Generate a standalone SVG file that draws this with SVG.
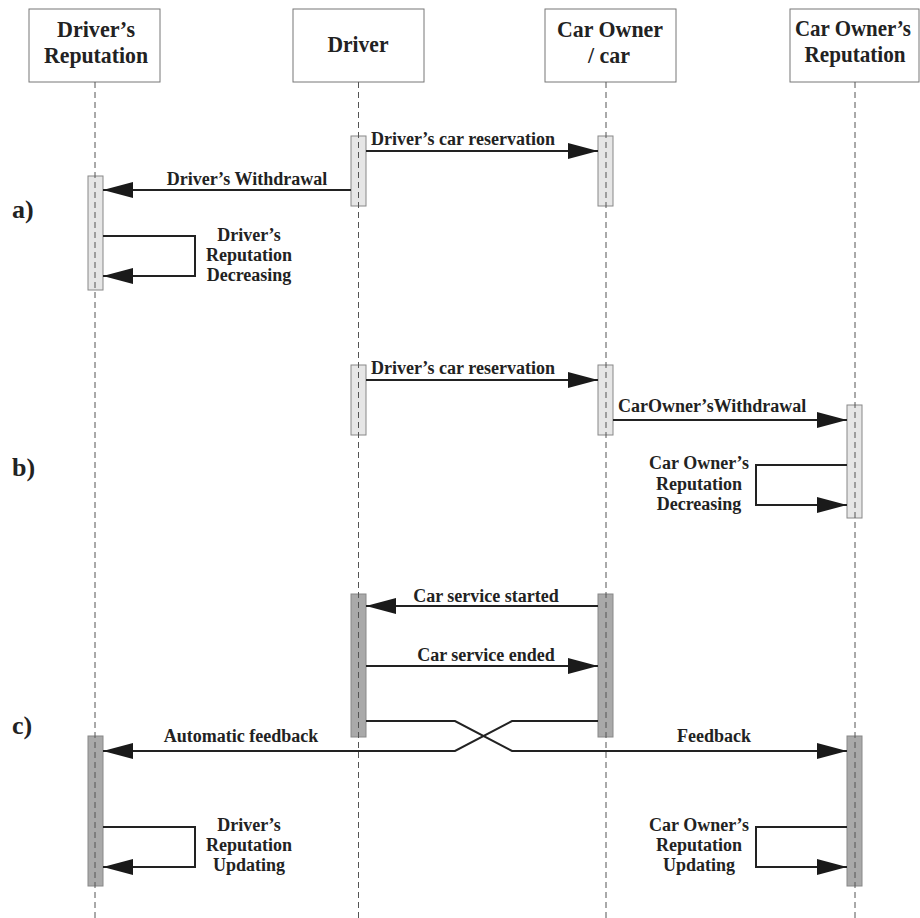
<svg xmlns="http://www.w3.org/2000/svg" width="920" height="918" viewBox="0 0 920 918">
<style>
.hdr{fill:#fff;stroke:#777;stroke-width:1}
.life{stroke:#555;stroke-width:1;stroke-dasharray:6,4;fill:none}
.actL{fill:#e6e6e6;stroke:#888;stroke-width:1}
.actD{fill:#a9a9a9;stroke:#888;stroke-width:1}
.msg{stroke:#222;stroke-width:2;fill:none;marker-end:url(#ah)}
text{font-family:"Liberation Serif","Times New Roman",serif;font-weight:bold;fill:#222}
.ht{font-size:24px;text-anchor:middle}
.t{font-size:18px}
.c{text-anchor:middle}
.sec{font-size:26px}
</style>
<defs>
<marker id="ah" markerUnits="userSpaceOnUse" markerWidth="31" markerHeight="17" refX="30" refY="8" orient="auto">
<path d="M0,0 L30,8 L0,16 z" fill="#1a1a1a"/>
</marker>
</defs>
<rect width="920" height="918" fill="#fff"/>

<g id="activations">
<rect class="actL" x="351" y="136" width="15" height="70"/>
<rect class="actL" x="598" y="136" width="15" height="70"/>
<rect class="actL" x="88" y="176" width="15" height="114"/>
<rect class="actL" x="351" y="365" width="15" height="70"/>
<rect class="actL" x="598" y="365" width="15" height="70"/>
<rect class="actL" x="847" y="405" width="15" height="113"/>
<rect class="actD" x="351" y="594" width="15" height="143"/>
<rect class="actD" x="598" y="594" width="15" height="143"/>
<rect class="actD" x="88" y="736" width="15" height="150"/>
<rect class="actD" x="847" y="736" width="15" height="150"/>
</g>

<g id="drivers-reputation">
<rect class="hdr" x="29" y="9" width="131" height="73"/>
<text class="ht" x="96" y="37" textLength="78" lengthAdjust="spacingAndGlyphs">Driver’s</text>
<text class="ht" x="96" y="63" textLength="104" lengthAdjust="spacingAndGlyphs">Reputation</text>
<line class="life" x1="95" y1="82" x2="95" y2="918"/>
</g>
<g id="driver">
<rect class="hdr" x="293" y="9" width="131" height="73"/>
<text class="ht" x="358" y="52" textLength="61" lengthAdjust="spacingAndGlyphs">Driver</text>
<line class="life" x1="358.5" y1="82" x2="358.5" y2="918"/>
</g>
<g id="car-owner">
<rect class="hdr" x="545" y="9" width="131" height="73"/>
<text class="ht" x="610" y="37" textLength="106" lengthAdjust="spacingAndGlyphs">Car Owner</text>
<text class="ht" x="609" y="63" textLength="42" lengthAdjust="spacingAndGlyphs">/ car</text>
<line class="life" x1="606" y1="82" x2="606" y2="918"/>
</g>
<g id="car-owners-reputation">
<rect class="hdr" x="790" y="9" width="129" height="73"/>
<text class="ht" x="853" y="36" textLength="116" lengthAdjust="spacingAndGlyphs">Car Owner’s</text>
<text class="ht" x="855" y="62" textLength="101" lengthAdjust="spacingAndGlyphs">Reputation</text>
<line class="life" x1="855" y1="82" x2="855" y2="918"/>
</g>

<g id="section-labels">
<text class="sec" x="12" y="218">a)</text>
<text class="sec" x="12" y="476">b)</text>
<text class="sec" x="12" y="734">c)</text>
</g>

<g id="connectors">
<line class="msg" x1="366" y1="151" x2="598" y2="151"/>
<text class="t" x="371" y="145">Driver’s car reservation</text>
<line class="msg" x1="351" y1="190" x2="103" y2="190"/>
<text class="t c" x="247" y="185">Driver’s Withdrawal</text>
<path class="msg" d="M103,236 H195 V276 H103"/>
<text class="t c" x="249" y="241">Driver’s</text>
<text class="t c" x="249" y="261">Reputation</text>
<text class="t c" x="249" y="281">Decreasing</text>

<line class="msg" x1="366" y1="380" x2="598" y2="380"/>
<text class="t" x="371" y="374">Driver’s car reservation</text>
<line class="msg" x1="613" y1="420" x2="847" y2="420"/>
<text class="t" x="618" y="412">CarOwner’sWithdrawal</text>
<path class="msg" d="M847,465 H756 V505 H847"/>
<text class="t c" x="699" y="469">Car Owner’s</text>
<text class="t c" x="699" y="490">Reputation</text>
<text class="t c" x="699" y="510">Decreasing</text>

<line class="msg" x1="598" y1="606" x2="366" y2="606"/>
<text class="t c" x="486" y="602">Car service started</text>
<line class="msg" x1="366" y1="666" x2="598" y2="666"/>
<text class="t c" x="486" y="661">Car service ended</text>
<path class="msg" d="M366,721 H455 L512,751 H847"/>
<path class="msg" d="M598,721 H512 L455,751 H103"/>
<text class="t c" x="241" y="742">Automatic feedback</text>
<text class="t c" x="714" y="742">Feedback</text>
<path class="msg" d="M103,827 H195 V867 H103"/>
<text class="t c" x="249" y="831">Driver’s</text>
<text class="t c" x="249" y="851">Reputation</text>
<text class="t c" x="249" y="871">Updating</text>
<path class="msg" d="M847,827 H756 V867 H847"/>
<text class="t c" x="699" y="831">Car Owner’s</text>
<text class="t c" x="699" y="851">Reputation</text>
<text class="t c" x="699" y="871">Updating</text>
</g>
</svg>
